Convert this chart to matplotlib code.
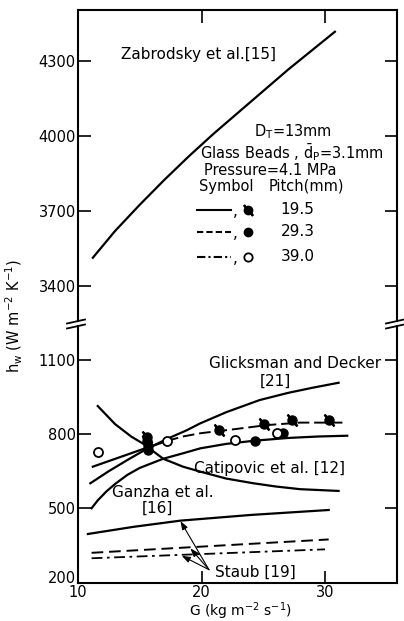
import matplotlib as mpl
mpl.use('Agg')

import matplotlib.pyplot as plt
from matplotlib.lines import Line2D
from matplotlib.transforms import ScaledTranslation

plt.rcParams['font.family'] = ['DejaVu Sans']
plt.rcParams['mathtext.default'] = 'regular'

# ---- data ----
# upper panel
zab_G = [11.2, 13.0, 15.0, 17.0, 19.0, 21.0, 23.0, 25.0, 27.0, 29.0, 30.8]
zab_h = [3513, 3620, 3725, 3825, 3920, 4010, 4095, 4180, 4265, 4345, 4417]

# lower panel, correlations
gd_G = [11.0, 12.5, 14.0, 15.5, 17.2, 18.8, 19.9, 22.0, 24.7, 27.0, 29.0, 31.1]
gd_h = [601, 650, 695, 738, 780, 815, 843, 888, 937, 966, 987, 1007]

cat_G = [11.6, 13.0, 14.3, 15.3, 16.9, 18.5, 19.9, 22.0, 24.2, 26.0, 28.0, 31.1]
cat_h = [913, 840, 790, 760, 700, 668, 648, 620, 601, 588, 577, 570]

gan_G = [11.1, 11.6, 12.3, 13.0, 14.0, 15.0, 16.9, 18.5, 19.9, 22.0, 24.3, 27.0, 29.5, 31.8]
gan_h = [500, 532, 568, 598, 635, 663, 700, 722, 742, 760, 773, 784, 790, 793]

staub_G = [10.8, 14.5, 18.3, 24.0, 30.3]
staub_h = [396, 425, 450, 473, 493]
staub2_G = [11.1, 30.3]
staub2_h = [320, 374]
staub3_G = [11.1, 30.0]
staub3_h = [298, 334]

# experimental line (pitch 19.5) and points
p195_line_G = [11.2, 13.2, 15.2, 17.2, 18.5, 19.9, 22.6, 25.3, 28.0, 31.5]
p195_line_h = [668, 703, 738, 772, 790, 803, 819, 836, 846, 846]

p195_G = [15.6, 15.6, 21.4, 25.1, 27.3, 30.3]
p195_h = [788, 772, 816, 840, 857, 857]
p293_G = [15.7, 15.7, 24.3, 26.6]
p293_h = [752, 737, 773, 805]
p390_G = [11.6, 17.2, 22.7, 26.1]
p390_h = [728, 773, 776, 803]

pitch_labels = ['19.5', '29.3', '39.0']

W, H = 404, 621
fig = plt.figure(figsize=(W / 100, H / 100), dpi=100)

def fx(px):
    return px / W

def fy(py):
    return 1 - py / H

x_left, x_right = 78, 397
top_top, top_bot = 10, 321.3
bot_top, bot_bot = 326.3, 583

ax_top = fig.add_axes([fx(x_left), fy(top_bot), fx(x_right - x_left), (top_bot - top_top) / H])
ax_bot = fig.add_axes([fx(x_left), fy(bot_bot), fx(x_right - x_left), (bot_bot - bot_top) / H])

lw_curve = 1.6
ax_top.plot(zab_G, zab_h, color='black', lw=lw_curve)

ax_bot.plot(gd_G, gd_h, color='black', lw=lw_curve)
ax_bot.plot(cat_G, cat_h, color='black', lw=lw_curve)
ax_bot.plot(gan_G, gan_h, color='black', lw=lw_curve)
ax_bot.plot(staub_G, staub_h, color='black', lw=lw_curve)
ax_bot.plot(staub2_G, staub2_h, color='black', lw=1.4, dashes=(6, 3))
ax_bot.plot(staub3_G, staub3_h, color='black', lw=1.3, dashes=(6, 2.5, 1.5, 2.5))

ax_bot.plot(p195_line_G[:4], p195_line_h[:4], color='black', lw=lw_curve)
ax_bot.plot(p195_line_G[3:], p195_line_h[3:], color='black', lw=1.4, dashes=(6, 2.5))

ax_bot.plot(p195_G, p195_h, 'o', color='black', ms=6.5, zorder=5)
ax_bot.plot(p195_G, p195_h, ls='none', marker=(2, 2, 40), color='black', ms=11, mew=1.6, zorder=5)
ax_bot.plot(p293_G, p293_h, 'o', color='black', ms=6.5, zorder=5)
ax_bot.plot(p390_G, p390_h, 'o', mfc='white', mec='black', mew=1.3, ms=6.5, zorder=5)

# annotations
fs = 11
ax_top.text(13.5, 4324, 'Zabrodsky et al.[15]', fontsize=fs, va='center')
ax_top.text(27.4, 4016, 'D$_T$=13mm', fontsize=10.5, ha='center', va='center')
ax_top.text(27.3, 3937, r'Glass Beads , $\bar{d}_P$=3.1mm', fontsize=10.5, ha='center', va='center')
ax_top.text(25.6, 3862, 'Pressure=4.1 MPa', fontsize=10.5, ha='center', va='center')
ax_top.text(19.8, 3800, 'Symbol', fontsize=10.5, va='center')
ax_top.text(25.4, 3800, 'Pitch(mm)', fontsize=10.5, va='center')

leg_y = [3704, 3617, 3517]
leg_styles = [dict(), dict(dashes=(3, 1.5)), dict(dashes=(4, 1.5, 1, 1.5))]
for i, y in enumerate(leg_y):
    ax_top.plot([19.6, 22.4], [y, y], color='black', lw=1.5, **leg_styles[i])
    ax_top.text(22.5, y - 8, ',', fontsize=fs, va='center')
    ax_top.text(26.4, y, pitch_labels[i], fontsize=fs, va='center')
ax_top.plot(23.8, leg_y[0], 'o', color='black', ms=6)
ax_top.plot(23.8, leg_y[0], ls='none', marker=(2, 2, 40), color='black', ms=10, mew=1.6)
ax_top.plot(23.8, leg_y[1], 'o', color='black', ms=6)
ax_top.plot(23.8, leg_y[2], 'o', mfc='white', mec='black', mew=1.3, ms=6)

ax_bot.text(27.6, 1086, 'Glicksman and Decker', fontsize=fs, ha='center', va='center')
ax_bot.text(26.0, 1014, '[21]', fontsize=fs, ha='center', va='center')
ax_bot.text(25.5, 661, 'Catipovic et al. [12]', fontsize=fs, ha='center', va='center')
ax_bot.text(16.9, 563, 'Ganzha et al.', fontsize=fs, ha='center', va='center')
ax_bot.text(16.4, 500, '[16]', fontsize=fs, ha='center', va='center')
ax_bot.text(24.4, 243, 'Staub [19]', fontsize=fs, ha='center', va='center')

arrow = dict(arrowstyle='-|>,head_length=0.5,head_width=0.18', lw=0.8,
             color='black', shrinkA=0, shrinkB=0)
for tip in [(18.3, 448), (19.1, 338), (18.4, 308)]:
    ax_bot.annotate('', xy=tip, xytext=(20.6, 252), arrowprops=arrow)

# axes setup
for ax in (ax_top, ax_bot):
    ax.set_xlim(10, 10 + (x_right - x_left) / 12.35)
    for s in ax.spines.values():
        s.set_linewidth(1.5)

ax_top.set_ylim(4300 - (top_bot - 61) * 4, 4300 + (61 - top_top) * 4)
ax_bot.set_ylim(800 - (bot_bot - 434) * 4.04, 800 + (434 - bot_top) * 4.04)

ax_top.spines['bottom'].set_visible(False)
ax_bot.spines['top'].set_visible(False)

ax_top.set_yticks([3400, 3700, 4000, 4300])
ax_top.set_xticks([20, 30])
ax_top.tick_params(axis='y', direction='in', left=True, right=True, length=9, width=1.2,
                   labelsize=10.5, pad=1.5)
ax_top.tick_params(axis='x', direction='in', top=True, bottom=False, labelbottom=False,
                   length=9, width=1.2)

ax_bot.set_yticks([200, 500, 800, 1100])
ax_bot.set_xticks([10, 20, 30])
ax_bot.tick_params(axis='y', direction='in', left=True, right=True, length=9, width=1.2,
                   labelsize=10.5, pad=1.5)
ax_bot.tick_params(axis='x', direction='in', top=False, bottom=True, length=9, width=1.2,
                   labelsize=10.5, pad=1.5)

# lift the "200" label a little so it clears the "10" below it
lab200 = ax_bot.get_yticklabels()[0]
lab200.set_transform(lab200.get_transform() + ScaledTranslation(0, 4 / 72, fig.dpi_scale_trans))

# axis break marks
for xs in (x_left, x_right):
    for yb in (321.5, 326.5):
        fig.add_artist(Line2D([fx(xs - 11), fx(xs + 7)], [fy(yb + 2), fy(yb - 2)],
                              color='black', lw=1.3))

fig.text(fx(14), fy(316), 'h$_w$ (W m$^{-2}$ K$^{-1}$)', rotation=90, fontsize=10.5,
         ha='center', va='center')
fig.text(fx(240), fy(611), 'G (kg m$^{-2}$ s$^{-1}$)', fontsize=10, ha='center', va='center')

fig.savefig('out.png', dpi=100)
